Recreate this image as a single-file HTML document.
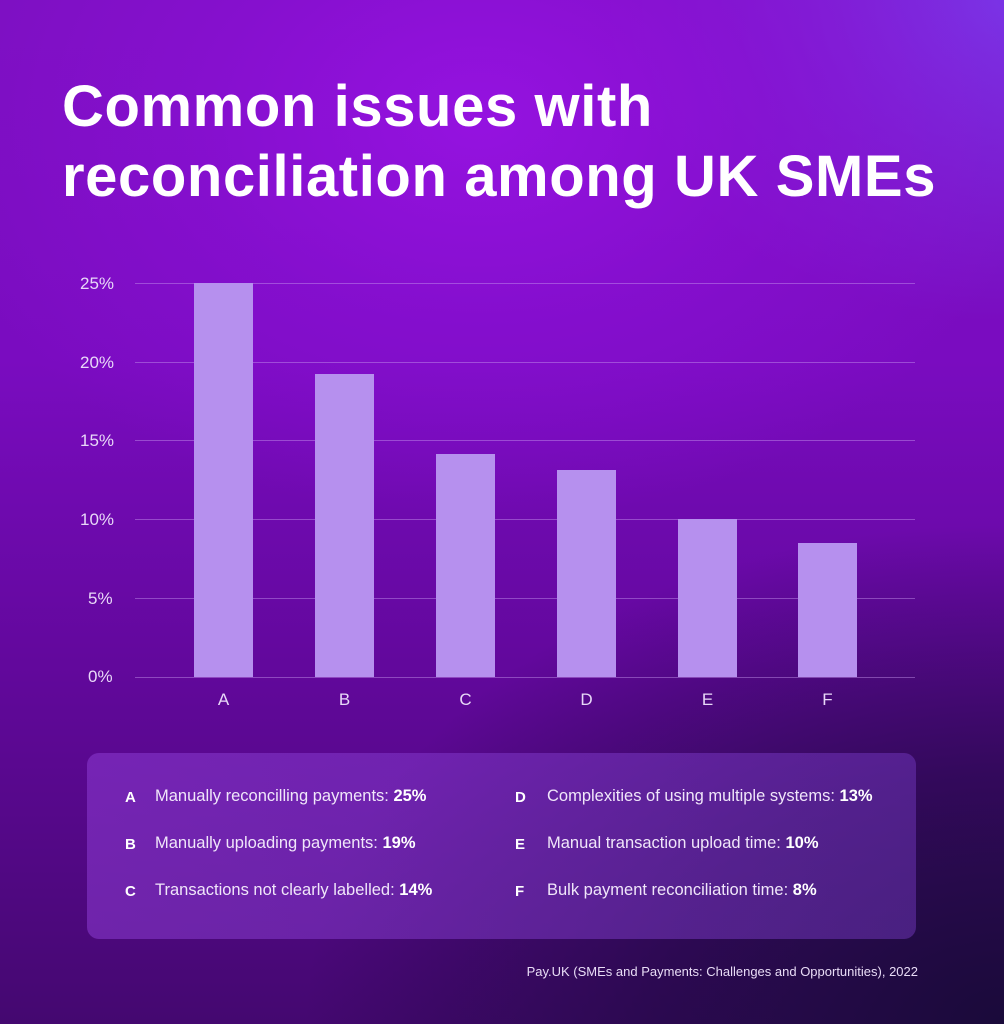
<!DOCTYPE html>
<html><head><meta charset="utf-8"><style>
body{margin:0;width:1004px;height:1024px;overflow:hidden;font-family:"Liberation Sans",sans-serif;}
#bg{position:absolute;left:0;top:0;width:1004px;height:1024px;
background:
radial-gradient(ellipse 700px 500px at 480px 120px, #9512e0 0%, rgba(140,16,215,0.6) 40%, rgba(120,10,190,0) 80%),
radial-gradient(ellipse 500px 400px at 1004px 0px, #7a34e6 0%, rgba(122,52,230,0) 80%),
radial-gradient(ellipse 700px 500px at 1004px 1024px, #1a0a3a 0%, rgba(26,10,58,0.6) 50%, rgba(26,10,58,0) 100%),
linear-gradient(180deg,#7c10c0 0%,#7a0cc0 35%,#62089c 65%,#440870 100%);}
.t{position:absolute;color:#fff;}
.title{left:62px;font-weight:bold;font-size:58px;letter-spacing:0.6px;line-height:1}
.grid{position:absolute;left:135px;width:780px;height:1px;background:rgba(200,150,240,0.45)}
.yl{position:absolute;left:80px;width:50px;color:#e8d8f8;font-size:17px}
.bar{position:absolute;width:59px;background:#b690ee}
.xl{position:absolute;top:690px;width:59px;text-align:center;color:#e8d8f8;font-size:17px}
#box{position:absolute;left:87px;top:753px;width:829px;height:186px;border-radius:12px;background:linear-gradient(90deg,rgba(140,60,210,0.55),rgba(120,60,200,0.45))}
.li{position:absolute;color:#f0e6fa;font-size:16.5px}
.li b{color:#fff}
.k{position:absolute;color:#fff;font-weight:bold;font-size:15px}
</style></head><body>
<div id="bg"></div>
<div class="t title" style="top:78px">Common issues with</div>
<div class="t title" style="top:148px">reconciliation among UK SMEs</div>

<div class="grid" style="top:283px"></div>
<div class="grid" style="top:362px"></div>
<div class="grid" style="top:440px"></div>
<div class="grid" style="top:519px"></div>
<div class="grid" style="top:598px"></div>
<div class="grid" style="top:677px"></div>
<div class="yl" style="top:274px">25%</div>
<div class="yl" style="top:353px">20%</div>
<div class="yl" style="top:431px">15%</div>
<div class="yl" style="top:510px">10%</div>
<div class="yl" style="top:589px;left:88px">5%</div>
<div class="yl" style="top:667px;left:88px">0%</div>

<div class="bar" style="left:194px;top:283px;height:394px"></div>
<div class="bar" style="left:315px;top:374px;height:303px"></div>
<div class="bar" style="left:436px;top:454px;height:223px"></div>
<div class="bar" style="left:557px;top:470px;height:207px"></div>
<div class="bar" style="left:678px;top:519px;height:158px"></div>
<div class="bar" style="left:798px;top:543px;height:134px"></div>
<div class="xl" style="left:194px">A</div>
<div class="xl" style="left:315px">B</div>
<div class="xl" style="left:436px">C</div>
<div class="xl" style="left:557px">D</div>
<div class="xl" style="left:678px">E</div>
<div class="xl" style="left:798px">F</div>

<div id="box"></div>
<div class="k" style="left:125px;top:789px">A</div>
<div class="li" style="left:155px;top:787px">Manually reconcilling payments: <b>25%</b></div>
<div class="k" style="left:125px;top:836px">B</div>
<div class="li" style="left:155px;top:834px">Manually uploading payments: <b>19%</b></div>
<div class="k" style="left:125px;top:883px">C</div>
<div class="li" style="left:155px;top:881px">Transactions not clearly labelled: <b>14%</b></div>
<div class="k" style="left:515px;top:789px">D</div>
<div class="li" style="left:547px;top:787px">Complexities of using multiple systems: <b>13%</b></div>
<div class="k" style="left:515px;top:836px">E</div>
<div class="li" style="left:547px;top:834px">Manual transaction upload time: <b>10%</b></div>
<div class="k" style="left:515px;top:883px">F</div>
<div class="li" style="left:547px;top:881px">Bulk payment reconciliation time: <b>8%</b></div>

<div class="t" style="right:86px;top:964px;font-size:13px;color:#e8dcf6">Pay.UK (SMEs and Payments: Challenges and Opportunities), 2022</div>
</body></html>
